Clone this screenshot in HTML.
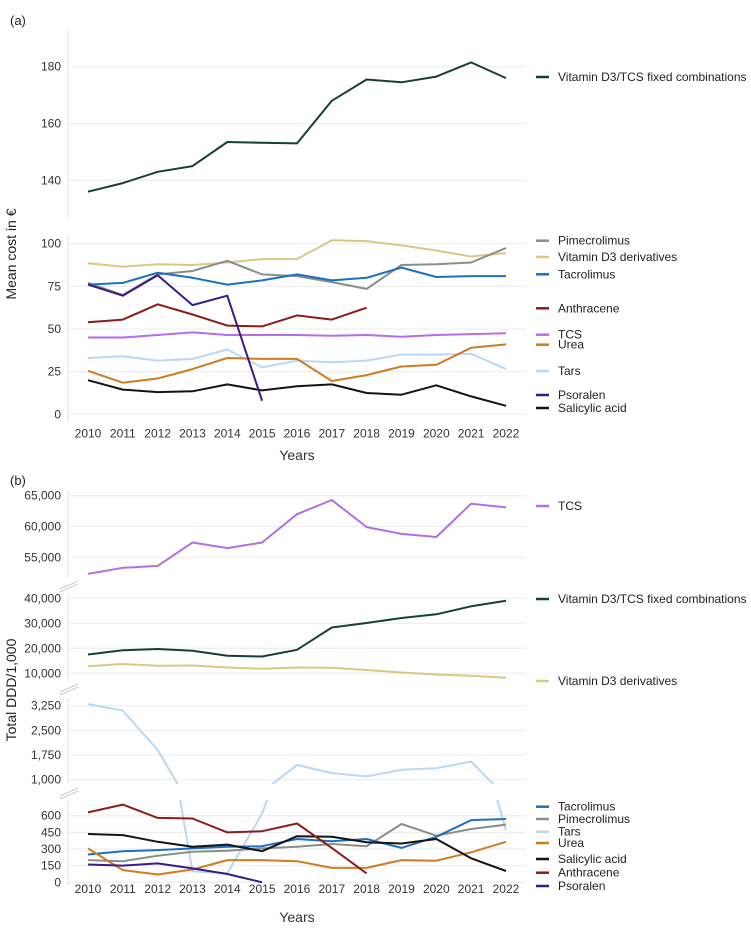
<!DOCTYPE html>
<html><head><meta charset="utf-8"><style>
body{margin:0;background:#fff;}
svg{display:block;font-family:"Liberation Sans",sans-serif;}
</style></head><body>
<svg id="c" width="751" height="929"></svg>
<script>
const years=[2010,2011,2012,2013,2014,2015,2016,2017,2018,2019,2020,2021,2022];
// Panel (a) mean cost
const aFixed=[136,139,143,145,153.5,153.2,153,168,175.5,174.5,176.5,181.5,176];
const aVitD3=[88.5,86.5,88,87.5,89,91,91,102,101.5,99,96,92.5,94.5];
const aPime=[77,70,82,84,90,82,81,77.5,73.5,87.5,88,89,97.5];
const aTacro=[76,77,83,80,76,78.5,82,78.5,80,86,80.5,81,81];
const aAnthr=[54,55.5,64.5,58.5,52,51.5,58,55.5,62.5,null,null,null,null];
const aTCS=[45,45,46.5,48,46.5,46.5,46.5,46,46.5,45.5,46.5,47,47.5];
const aUrea=[25.5,18.5,21,26.5,33,32.5,32.5,19.5,23,28,29,39,41];
const aTars=[33,34,31.5,32.5,38,27.5,31.5,30.5,31.5,35,35,35.5,26.5];
const aPsor=[76,69.5,81.5,64,69.5,8,null,null,null,null,null,null,null];
const aSalic=[20,14.5,13,13.5,17.5,14,16.5,17.5,12.5,11.5,17,10.5,5];
// Panel (b) total DDD/1,000
const bTCS=[52300,53300,53600,57400,56500,57400,62000,64300,59900,58800,58300,63700,63100];
const bFixed=[17500,19200,19700,19000,17000,16700,19400,28300,30100,32100,33600,36800,39000];
const bVitD3=[12800,13700,13000,13100,12300,11800,12300,12200,11300,10300,9500,9000,8200];
const bTars=[3300,3100,1900,100,80,620,1450,1200,1100,1300,1350,1550,470];
const bAnthr=[630,700,580,575,450,460,530,310,80,null,null,null,null];
const bSalic=[435,425,365,320,340,280,415,410,360,350,390,216,102];
const bTacro=[250,280,290,305,320,325,390,370,390,310,410,560,570];
const bPime=[200,190,240,275,285,305,320,345,325,525,420,480,520];
const bUrea=[305,110,70,115,200,200,190,130,130,200,195,270,365];
const bPsor=[160,150,170,125,75,0,null,null,null,null,null,null,null];
const ticksA1=[140,160,180], ticksA2=[0,25,50,75,100];
const ticksB1=[55000,60000,65000], ticksB2=[10000,20000,30000,40000], ticksB3=[1000,1750,2500,3250], ticksB4=[0,150,300,450,600];

const C={fixed:'#163f37',vitd3:'#d8c985',pime:'#8c8c8c',tacro:'#1f6fbf',anthr:'#8b1c1c',tcs:'#b46ee6',urea:'#d27c22',tars:'#b8d8f4',psor:'#3b1a86',salic:'#141414'};
const svg=document.getElementById('c');const NS='http://www.w3.org/2000/svg';
function el(t,a,p){const e=document.createElementNS(NS,t);for(const k in a)e.setAttribute(k,a[k]);(p||svg).appendChild(e);return e;}
const x=yr=>88+(yr-2010)*34.83;
const X0=68,X1=526;
let clipId=0;
function seg(v0,y0,v1,y1,top,bot,ticks,fmt,series,name){
  const sy=v=>y0+(v-v0)*(y1-y0)/(v1-v0);
  const g=el('g',{});
  
  
  const ax=el('line',{x1:X0,x2:X0,y1:top,y2:bot,stroke:'#e3e3e3','stroke-width':1},g);
  ticks.forEach(t=>{
    const gl=el('line',{x1:X0,x2:X1,y1:sy(t),y2:sy(t),stroke:'#ececec','stroke-width':1},g);
    
    
    const tx=el('text',{x:61,y:sy(t)+4,'text-anchor':'end','font-size':12,fill:'#333'},g);
    tx.textContent=fmt(t);
    
    
  });
  const id='cl'+(clipId++);
  const cp=el('clipPath',{id:id},g);el('rect',{x:X0,y:top,width:X1-X0,height:bot-top},cp);
  series.forEach(([arr,col,nm])=>{
    let d='',pen=false;
    arr.forEach((v,i)=>{if(v==null){pen=false;return;}d+=(pen?'L':'M')+x(years[i]).toFixed(1)+','+sy(v).toFixed(1);pen=true;});
    const p=el('path',{d:d,fill:'none',stroke:col,'stroke-width':2,'stroke-linejoin':'round','clip-path':'url(#'+id+')'},g);
    
    
  });
}
function brk(y){const g=el('g',{stroke:'#ccc','stroke-width':1});
  el('line',{x1:60,y1:y+4,x2:78,y2:y-4},g);el('line',{x1:60,y1:y+7,x2:78,y2:y-1},g);}
const f0=t=>String(t), fk=t=>t.toLocaleString('en-US');
// Panel a
seg(140,180.3,180,66.7,30,218,ticksA1,f0,[[aFixed,C.fixed,'line-fixed-combinations']],'panel-a-upper');
seg(0,414.3,100,243.7,235,423,ticksA2,f0,[[aVitD3,C.vitd3,'line-vitamin-d3'],[aPime,C.pime,'line-pimecrolimus'],[aTacro,C.tacro,'line-tacrolimus'],[aAnthr,C.anthr,'line-anthracene'],[aTCS,C.tcs,'line-tcs'],[aTars,C.tars,'line-tars'],[aUrea,C.urea,'line-urea'],[aSalic,C.salic,'line-salicylic-acid'],[aPsor,C.psor,'line-psoralen']],'panel-a-lower');
// Panel b
seg(55000,557.3,65000,495.7,490,578,ticksB1,fk,[[bTCS,C.tcs,'line-tcs']],'panel-b-seg1');
seg(10000,673.3,40000,598.3,593,681,ticksB2,fk,[[bFixed,C.fixed,'line-fixed-combinations'],[bVitD3,C.vitd3,'line-vitamin-d3']],'panel-b-seg2');
seg(1000,779.7,3250,705.7,698,784,ticksB3,fk,[[bTars,C.tars,'line-tars']],'panel-b-seg3');
seg(0,882.3,600,815.7,800,886,ticksB4,f0,[[bTars,C.tars,'line-tars'],[bPime,C.pime,'line-pimecrolimus'],[bTacro,C.tacro,'line-tacrolimus'],[bUrea,C.urea,'line-urea'],[bSalic,C.salic,'line-salicylic-acid'],[bAnthr,C.anthr,'line-anthracene'],[bPsor,C.psor,'line-psoralen']],'panel-b-seg4');
brk(585);brk(688);brk(792);
// x labels
[[433.7,455],[889,917]].forEach(([ly,ty])=>{
  years.forEach(yr=>{const t=el('text',{x:x(yr),y:ly+4,'text-anchor':'middle','font-size':12,fill:'#333'});t.textContent=yr;
    });
  const t=el('text',{x:297,y:ty+5,'text-anchor':'middle','font-size':14,fill:'#333'});t.textContent='Years';
  
});
function txt(s,a,name,size){const t=el('text',Object.assign({'font-size':size||12,fill:'#222'},a));t.textContent=s;return t;}
txt('(a)',{x:10,y:25},'panel-a-label',13);
txt('(b)',{x:10,y:485},'panel-b-label',13);
txt('Mean cost in €',{x:0,y:0,transform:'translate(16,254) rotate(-90)','text-anchor':'middle'},'y-axis-title-a',14);
txt('Total DDD/1,000',{x:0,y:0,transform:'translate(16,690) rotate(-90)','text-anchor':'middle'},'y-axis-title-b',14);
// legends
const legA=[['Vitamin D3/TCS fixed combinations',C.fixed,77],['Pimecrolimus',C.pime,240.7],['Vitamin D3 derivatives',C.vitd3,257],['Tacrolimus',C.tacro,274.3],['Anthracene',C.anthr,308.3],['TCS',C.tcs,334.7],['Urea',C.urea,344.7],['Tars',C.tars,371],['Psoralen',C.psor,395],['Salicylic acid',C.salic,408]];
const legB=[['TCS',C.tcs,506],['Vitamin D3/TCS fixed combinations',C.fixed,599],['Vitamin D3 derivatives',C.vitd3,681],['Tacrolimus',C.tacro,806.7],['Pimecrolimus',C.pime,819],['Tars',C.tars,831.7],['Urea',C.urea,843],['Salicylic acid',C.salic,859],['Anthracene',C.anthr,872.7],['Psoralen',C.psor,886]];
legA.concat(legB).forEach(([s,col,y])=>{
  const g=el('g',{});
  el('line',{x1:536,x2:549,y1:y,y2:y,stroke:col,'stroke-width':2.5},g);
  const t=el('text',{x:558,y:y+4,'font-size':12,fill:'#222'},g);t.textContent=s;
});
</script>
</body></html>
